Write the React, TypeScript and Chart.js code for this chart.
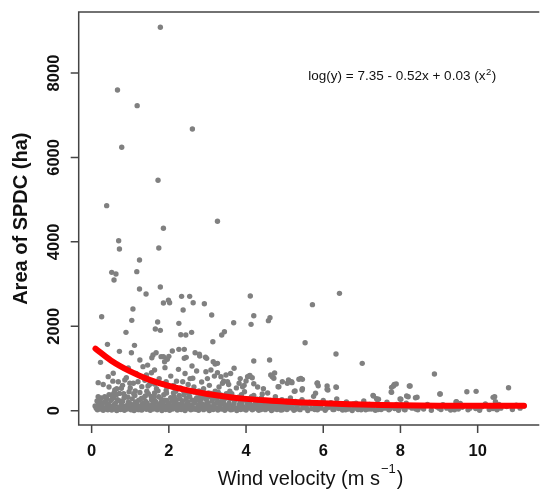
import { useEffect, useRef } from "react";
import { Chart, registerables } from "chart.js";
Chart.register(...registerables);

// ---- data ----
const xTickValues = [0, 2, 4, 6, 8, 10];
const yTickValues = [0, 2000, 4000, 6000, 8000];
const xTitle = "Wind velocity (m s";
const yTitle = "Area of SPDC (ha)";
const equationText = "log(y) = 7.35 - 0.52x + 0.03 (x";

const outlierPoints = [
  [1.78, 9084], [0.67, 7599], [1.18, 7227], [2.61, 6675], [0.78, 6240], [1.72, 5458], [0.39, 4858], [3.26, 4487],
  [1.86, 4321], [0.7, 4028], [0.72, 3831], [1.74, 3855], [1.24, 3570], [0.52, 3278], [0.63, 3239], [0.58, 3096],
  [1.17, 3294], [1.24, 2883], [1.41, 2765], [1.78, 2930], [2.33, 2709], [2.54, 2709], [1.86, 2551], [1.99, 2615],
  [2.02, 2559], [2.63, 2559], [2.92, 2535], [4.11, 2717], [6.42, 2780], [5.72, 2512], [0.26, 2227], [2.37, 2385],
  [1.07, 2409], [3.11, 2267], [4.2, 2251], [4.62, 2204], [4.58, 2133], [1.04, 2141], [1.71, 2101], [2.26, 2069],
  [3.68, 2085], [4.13, 2046], [1.65, 1935], [1.78, 1904], [0.89, 1856], [2.59, 1856], [2.31, 1801], [2.44, 1793],
  [3.44, 1872], [3.37, 1793], [5.53, 1611], [3.14, 1635], [0.41, 1572], [1.11, 1548], [2.26, 1453], [2.4, 1453],
  [6.33, 1343], [0.72, 1406], [1.03, 1374], [1.67, 1374], [2.09, 1414], [2.68, 1374], [7.01, 1122], [4.61, 1201],
  [4.2, 1177], [0.23, 1145], [1.25, 1201], [1.56, 1256], [1.86, 1280], [2.0, 1288], [2.45, 1264], [2.8, 1295],
  [2.98, 1240], [3.15, 1161], [3.26, 1122], [2.79, 1336], [2.95, 1265], [3.2, 1107], [1.59, 1320], [1.8, 1280],
  [1.89, 1161], [1.96, 1218], [2.4, 1242], [1.33, 1043], [3.69, 1004], [1.63, 964], [3.09, 964],
];

const midPoints = [
  [8.88, 869], [10.8, 545], [9.96, 458], [9.03, 395], [8.23, 585], [7.84, 624], [7.77, 553], [7.76, 442],
  [8.39, 308], [8.16, 348], [7.99, 277], [10.4, 316], [9.44, 205], [7.29, 363], [7.38, 284], [6.1, 585],
  [6.33, 561], [5.85, 656], [5.87, 592], [5.46, 521], [5.42, 766], [5.46, 742], [5.1, 727], [5.19, 664],
  [4.94, 687], [4.83, 569], [4.74, 893], [4.68, 806], [5.25, 458], [4.04, 806], [4.1, 837], [4.16, 782],
  [2.96, 924], [3.26, 901], [3.35, 806], [3.48, 846], [3.52, 687], [3.39, 649], [3.82, 649], [4.0, 704],
  [4.08, 822], [3.91, 569], [4.64, 846], [4.72, 767], [4.85, 569], [5.07, 649], [5.18, 687], [5.37, 744],
  [5.27, 467], [5.45, 490], [5.84, 649], [6.1, 506], [5.8, 412], [4.42, 396], [9.72, 450], [6.12, 490],
  [6.34, 553], [7.3, 348], [7.43, 270], [7.77, 435], [7.82, 585], [7.89, 633], [8.25, 585], [8.01, 270],
  [8.2, 332], [8.43, 317], [9.02, 396], [9.45, 213], [10.44, 332], [10.46, 213], [1.42, 846], [0.43, 806],
  [0.56, 886], [0.17, 664], [0.69, 687], [0.86, 727], [0.99, 649], [1.2, 687], [1.46, 585], [1.63, 633],
  [1.93, 687], [2.1, 569], [2.36, 687], [2.62, 767], [0.17, 332], [0.21, 95], [0.09, 111], [0.39, 293],
  [0.52, 372], [0.6, 490], [0.77, 530],
  [0.3, 620], [0.45, 560], [0.55, 700], [0.65, 520], [0.8, 600], [0.9, 780], [1.0, 540], [1.08, 650],
  [1.15, 880], [1.3, 570], [1.38, 720], [1.5, 620], [1.55, 900], [1.68, 520], [1.75, 760], [1.85, 640],
  [1.95, 560], [2.05, 820], [2.12, 600], [2.2, 700], [2.3, 540], [2.42, 880], [2.5, 620], [2.55, 760],
  [2.65, 560], [2.72, 940], [2.85, 680], [2.9, 520], [3.0, 760], [3.05, 600], [3.18, 820], [3.3, 560],
  [3.42, 700], [3.55, 620], [3.6, 880], [3.75, 540], [3.85, 760], [3.95, 600], [4.2, 640], [4.3, 560],
  [4.45, 520], [1.9, 1020], [2.6, 1060], [2.25, 980], [0.95, 1010], [1.45, 1080],
];

const lowPointsA = [
  [0.12, 60], [0.15, 20], [0.18, 150], [0.22, 40], [0.25, 300], [0.28, 90], [0.3, 10], [0.33, 200],
  [0.36, 55], [0.4, 130], [0.42, 20], [0.45, 380], [0.47, 70], [0.5, 240], [0.52, 15], [0.55, 110],
  [0.57, 320], [0.6, 45], [0.62, 180], [0.65, 5], [0.67, 260], [0.7, 80], [0.72, 410], [0.75, 30],
  [0.77, 150], [0.8, 220], [0.82, 60], [0.85, 10], [0.87, 340], [0.9, 120], [0.92, 40], [0.95, 200],
  [0.97, 450], [1.0, 75], [1.02, 20], [1.05, 280], [1.07, 140], [1.1, 5], [1.12, 360], [1.15, 90],
  [1.17, 190], [1.2, 30], [1.22, 250], [1.25, 430], [1.27, 110], [1.3, 15], [1.32, 170], [1.35, 310],
  [1.37, 60], [1.4, 220], [1.42, 35], [1.45, 130], [1.47, 400], [1.5, 80], [1.52, 10], [1.55, 260],
  [1.57, 150], [1.6, 40], [1.62, 330], [1.65, 95], [1.67, 200], [1.7, 20], [1.72, 470], [1.75, 120],
  [1.77, 60], [1.8, 280], [1.82, 5], [1.85, 170], [1.87, 380], [1.9, 90], [1.92, 30], [1.95, 240],
  [1.97, 140], [2.0, 50],
];

const lowPointsB = [
  [2.02, 10], [2.05, 310], [2.07, 120], [2.1, 40], [2.12, 420], [2.15, 200], [2.17, 70], [2.2, 260],
  [2.22, 15], [2.25, 150], [2.27, 360], [2.3, 90], [2.32, 30], [2.35, 230], [2.37, 480], [2.4, 110],
  [2.42, 5], [2.45, 290], [2.47, 170], [2.5, 50], [2.52, 390], [2.55, 130], [2.57, 20], [2.6, 250],
  [2.62, 80], [2.65, 440], [2.67, 190], [2.7, 35], [2.72, 300], [2.75, 100], [2.77, 10], [2.8, 220],
  [2.82, 350], [2.85, 60], [2.87, 160], [2.9, 25], [2.92, 410], [2.95, 120], [2.97, 270], [3.0, 45],
  [3.02, 180], [3.05, 5], [3.07, 330], [3.1, 90], [3.12, 230], [3.15, 30], [3.17, 150], [3.2, 460],
  [3.22, 70], [3.25, 280], [3.27, 15], [3.3, 200], [3.32, 110], [3.35, 370], [3.37, 40], [3.4, 160],
  [3.42, 250], [3.45, 10], [3.47, 90],
];

const lowPointsC = [
  [3.5, 300], [3.53, 50], [3.56, 180], [3.6, 20], [3.63, 400], [3.66, 120], [3.7, 240], [3.73, 60],
  [3.76, 5], [3.8, 320], [3.83, 150], [3.86, 30], [3.9, 210], [3.93, 90], [3.96, 450], [4.0, 15],
  [4.03, 170], [4.06, 280], [4.1, 60], [4.13, 130], [4.16, 20], [4.2, 360], [4.23, 100], [4.26, 220],
  [4.3, 40], [4.33, 10], [4.36, 160], [4.4, 300], [4.43, 70], [4.46, 190], [4.5, 25], [4.53, 120],
  [4.56, 420], [4.6, 50], [4.63, 240], [4.66, 5], [4.7, 150], [4.73, 80], [4.76, 330], [4.8, 30],
  [4.83, 200], [4.86, 110], [4.9, 15], [4.93, 260], [4.96, 60],
];

const lowPointsD = [
  [5.02, 180], [5.06, 30], [5.1, 120], [5.15, 300], [5.2, 60], [5.24, 10], [5.28, 220], [5.32, 90],
  [5.36, 150], [5.4, 25], [5.45, 260], [5.5, 70], [5.55, 130], [5.6, 5], [5.65, 200], [5.7, 50],
  [5.75, 340], [5.8, 100], [5.85, 20], [5.9, 170], [5.95, 60], [6.0, 240], [6.05, 10], [6.1, 130],
  [6.15, 80], [6.2, 190], [6.25, 30], [6.3, 110], [6.35, 280], [6.4, 50], [6.45, 160], [6.5, 15],
  [6.55, 90], [6.6, 210], [6.65, 40], [6.7, 140], [6.75, 5], [6.8, 70], [6.85, 180], [6.9, 30],
  [6.95, 120], [7.0, 60], [7.05, 230], [7.1, 20], [7.15, 100], [7.2, 150], [7.25, 40], [7.35, 10],
  [7.4, 170], [7.45, 80], [7.5, 30], [7.55, 130], [7.6, 60], [7.65, 200], [7.7, 20], [7.75, 100],
  [7.85, 50], [7.9, 150], [7.95, 10], [8.05, 90], [8.1, 30], [8.15, 180], [8.3, 60], [8.35, 120],
  [8.45, 20], [8.5, 80],
];

const lowPointsE = [
  [8.6, 40], [8.7, 150], [8.8, 10], [8.95, 90], [9.05, 30], [9.1, 140], [9.2, 60], [9.3, 15],
  [9.35, 110], [9.5, 40], [9.55, 170], [9.6, 80], [9.75, 20], [9.85, 120], [9.95, 50], [10.05, 10],
  [10.1, 90], [10.2, 160], [10.3, 30], [10.35, 70], [10.45, 120], [10.5, 20], [10.55, 150], [10.6, 60],
  [10.75, 100], [10.9, 30], [11.0, 130], [11.1, 60], [11.2, 110],
];

// extra points filling the solid grey band near the bottom
const lowPointsF = [
  [0.2, 250], [0.26, 120], [0.32, 35], [0.38, 260], [0.44, 160], [0.49, 40], [0.54, 290], [0.59, 140],
  [0.64, 380], [0.69, 30], [0.74, 230], [0.79, 100], [0.84, 300], [0.89, 55], [0.94, 320], [0.99, 170],
  [1.04, 50], [1.09, 400], [1.14, 210], [1.19, 120], [1.24, 25], [1.29, 290], [1.34, 90], [1.39, 350],
  [1.44, 180], [1.49, 45], [1.54, 340], [1.59, 110], [1.64, 230], [1.69, 55], [1.74, 330], [1.79, 180],
  [1.84, 90], [1.89, 250], [1.94, 420], [1.99, 190], [2.04, 80], [2.09, 230], [2.14, 330], [2.19, 140],
  [2.24, 40], [2.29, 280], [2.34, 170], [2.39, 380], [2.44, 70], [2.49, 210], [2.54, 330], [2.59, 130],
  [2.64, 40], [2.69, 260], [2.74, 420], [2.79, 140], [2.84, 270], [2.89, 80], [2.94, 330], [2.99, 200],
  [3.04, 100], [3.09, 410], [3.14, 280], [3.19, 60], [3.24, 190], [3.29, 350], [3.34, 50], [3.39, 260],
  [3.44, 150], [3.49, 400], [3.54, 110], [3.59, 280], [3.64, 30], [3.69, 170], [3.74, 310], [3.79, 70],
  [3.84, 230], [3.89, 130], [3.94, 40], [3.99, 260], [4.04, 90], [4.09, 200], [4.14, 330], [4.19, 40],
  [4.24, 160], [4.29, 270], [4.34, 90], [4.39, 30], [4.44, 230], [4.49, 140], [4.54, 60], [4.59, 190],
  [4.64, 110], [4.69, 30], [4.74, 210], [4.79, 120], [4.84, 60], [4.89, 170], [4.94, 20], [4.99, 120],
  [5.05, 230], [5.13, 70], [5.22, 150], [5.3, 40], [5.38, 200], [5.47, 120], [5.57, 60], [5.67, 150],
  [5.78, 30], [5.88, 110], [5.98, 170], [6.08, 50], [6.18, 130], [6.28, 30], [6.38, 150], [6.48, 70],
  [6.58, 20], [6.68, 110], [6.78, 160], [6.88, 50], [6.98, 20], [7.08, 110], [7.18, 40], [7.3, 120],
  [7.42, 30], [7.52, 80], [7.62, 140], [7.72, 40], [7.82, 100], [7.92, 60], [8.02, 140], [8.12, 20],
  [8.22, 90], [8.4, 40], [8.55, 110], [9.0, 60], [9.25, 100], [9.4, 20], [9.8, 60], [10.4, 50],
  [0.14, 230], [0.24, 190], [0.34, 330], [0.58, 420], [0.83, 400], [1.13, 470], [1.43, 460], [1.63, 420],
  [1.93, 480], [2.18, 460], [2.48, 440], [2.78, 470], [3.03, 420], [3.28, 440], [3.58, 460], [3.88, 380],
];

// fitted curve
const fitX = [0.1, 0.5, 1.0, 1.5, 2.0, 2.5, 3.0, 3.5, 4.0, 4.5, 5.0, 5.5, 6.0, 6.5, 7.0, 7.5, 8.0, 8.5, 9.0, 9.5, 10.0, 10.5, 11.0, 11.2];
const fitY = [1470, 1190, 930, 730, 590, 480, 395, 330, 280, 245, 215, 195, 175, 160, 145, 135, 128, 122, 118, 116, 115, 115, 116, 117];

const FONT = "'Liberation Sans', Arial, Helvetica, sans-serif";

const framePlugin = {
  id: "rframe",
  afterDraw(chart: any) {
    const ctx = chart.ctx as CanvasRenderingContext2D;
    const { left, top, right, bottom } = chart.chartArea;
    const xs = chart.scales.x;
    const ys = chart.scales.y;
    ctx.save();
    ctx.strokeStyle = "#444";
    ctx.lineWidth = 1.5;
    ctx.beginPath();
    ctx.moveTo(right + 2, top);
    ctx.lineTo(left, top);
    ctx.lineTo(left, bottom);
    ctx.lineTo(right + 2, bottom);
    ctx.stroke();
    ctx.beginPath();
    xTickValues.forEach((v) => {
      const px = xs.getPixelForValue(v);
      ctx.moveTo(px, bottom);
      ctx.lineTo(px, bottom + 8);
    });
    yTickValues.forEach((v) => {
      const py = ys.getPixelForValue(v);
      ctx.moveTo(left, py);
      ctx.lineTo(left - 8, py);
    });
    ctx.stroke();
    ctx.fillStyle = "#111";
    ctx.font = `bold 16.5px ${FONT}`;
    ctx.textAlign = "center";
    ctx.textBaseline = "alphabetic";
    xTickValues.forEach((v) => {
      ctx.fillText(String(v), xs.getPixelForValue(v), 455.8);
    });
    yTickValues.forEach((v) => {
      const py = ys.getPixelForValue(v);
      ctx.save();
      ctx.translate(58.5, py);
      ctx.rotate(-Math.PI / 2);
      ctx.fillText(String(v), 0, 0);
      ctx.restore();
    });
    ctx.save();
    ctx.font = `bold 20px ${FONT}`;
    ctx.translate(26.5, 218.7);
    ctx.rotate(-Math.PI / 2);
    ctx.fillText(yTitle, 0, 0);
    ctx.restore();
    ctx.textAlign = "left";
    ctx.font = `20px ${FONT}`;
    const w1 = ctx.measureText(xTitle).width;
    ctx.font = `13px ${FONT}`;
    const sup = "\u22121";
    const w2 = ctx.measureText(sup).width;
    ctx.font = `20px ${FONT}`;
    const w3 = ctx.measureText(")").width;
    const total = w1 + w2 + 2 + w3;
    let sx = 310.5 - total / 2;
    ctx.fillText(xTitle, sx, 485);
    sx += w1 + 1;
    ctx.font = `13px ${FONT}`;
    ctx.fillText(sup, sx, 472.5);
    sx += w2 + 1;
    ctx.font = `20px ${FONT}`;
    ctx.fillText(")", sx, 485);
    ctx.font = `13.5px ${FONT}`;
    ctx.fillText(equationText, 308.3, 80);
    const e1 = ctx.measureText(equationText).width;
    ctx.font = `9.5px ${FONT}`;
    ctx.fillText("2", 308.3 + e1 + 0.5, 74.5);
    const e2 = ctx.measureText("2").width;
    ctx.font = `13.5px ${FONT}`;
    ctx.fillText(")", 308.3 + e1 + e2 + 1, 80);
    ctx.restore();
  },
};

export default function App() {
  const ref = useRef<HTMLCanvasElement>(null);
  useEffect(() => {
    document.body.style.margin = "0";
    document.body.style.overflow = "hidden";
    const canvas = ref.current!;
    const allPoints = [
      ...outlierPoints, ...midPoints, ...lowPointsA, ...lowPointsB, ...lowPointsC,
      ...lowPointsD, ...lowPointsE, ...lowPointsF,
    ];
    const chart = new Chart(canvas, {
      type: "scatter",
      data: {
        datasets: [
          {
            label: "fit",
            data: fitX.map((x, i) => ({ x, y: fitY[i] })),
            showLine: true,
            borderColor: "#ff0000",
            backgroundColor: "#ff0000",
            borderWidth: 6,
            borderCapStyle: "round",
            borderJoinStyle: "round",
            cubicInterpolationMode: "monotone",
            pointRadius: 0,
            order: 0,
          } as any,
          {
            label: "SPDC",
            data: allPoints.map(([x, y]) => ({ x, y })),
            backgroundColor: "#808080",
            borderWidth: 0,
            pointRadius: 2.7,
            pointHoverRadius: 2.7,
            order: 1,
          },
        ],
      },
      options: {
        responsive: false,
        animation: false,
        devicePixelRatio: 1,
        events: [],
        layout: { padding: { top: 12, left: 0, right: 0, bottom: 0 } },
        plugins: { legend: { display: false }, tooltip: { enabled: false } },
        scales: {
          x: {
            type: "linear",
            min: -0.335,
            max: 11.545,
            grid: { display: false },
            border: { display: false },
            ticks: { display: false },
            afterFit: (s: any) => { s.height = 64; },
          },
          y: {
            type: "linear",
            min: -339,
            max: 9446,
            grid: { display: false },
            border: { display: false },
            ticks: { display: false },
            afterFit: (s: any) => { s.width = 78.7; },
          },
        },
      },
      plugins: [framePlugin],
    });
    return () => chart.destroy();
  }, []);
  return (
    <div style={{ width: 540, height: 489 }}>
      <canvas ref={ref} width={540} height={489} style={{ width: 540, height: 489, display: "block" }} />
    </div>
  );
}
